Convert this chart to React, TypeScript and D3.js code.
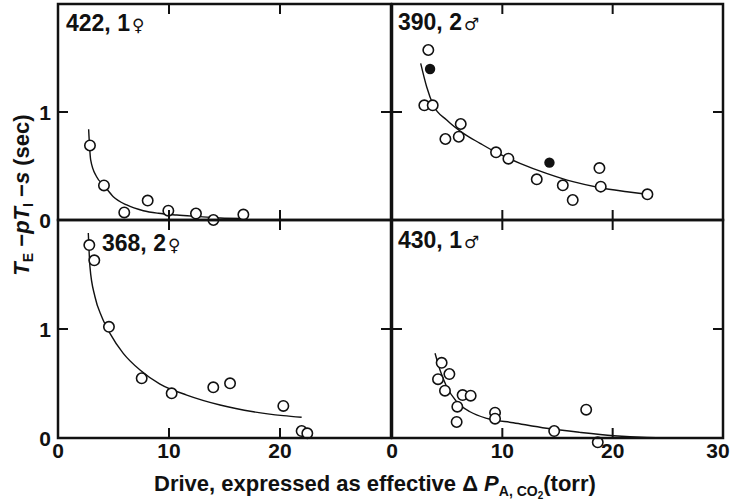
import * as d3 from 'd3';
import React from 'react';

// drive (torr) / time (sec)
const open422 = [[2.88, 0.69], [4.14, 0.32], [5.97, 0.07], [8.08, 0.18], [9.94, 0.086], [12.43, 0.06], [14.0, 0.0], [16.7, 0.05]];
const fit422 = [[2.76, 0.84], [2.94, 0.56], [3.48, 0.40], [4.14, 0.32], [4.98, 0.216], [6.19, 0.139], [7.69, 0.086], [9.04, 0.062], [10.7, 0.046], [12.8, 0.031], [14.6, 0.018], [16.7, 0.014]];

const open390 = [[3.29, 1.574], [2.93, 1.062], [3.69, 1.062], [6.23, 0.889], [4.84, 0.75], [6.05, 0.771], [9.43, 0.627], [10.55, 0.568], [13.12, 0.377], [15.48, 0.321], [16.38, 0.185], [18.8, 0.481], [18.92, 0.309], [23.15, 0.238]];
const filled390 = [[3.45, 1.398], [14.27, 0.531]];
const fit390 = [[2.6, 1.45], [3.14, 1.234], [3.75, 1.062], [4.96, 0.926], [6.47, 0.802], [7.98, 0.71], [9.49, 0.623], [11.6, 0.525], [14.0, 0.432], [16.4, 0.355], [18.86, 0.299], [21.3, 0.262], [23.1, 0.238]];

const open368 = [[2.82, 1.77], [3.27, 1.63], [4.59, 1.02], [7.54, 0.548], [10.24, 0.41], [13.99, 0.465], [15.5, 0.502], [20.3, 0.294], [21.95, 0.064], [22.46, 0.043]];
const fit368 = [[2.73, 1.88], [2.88, 1.57], [3.33, 1.296], [3.94, 1.113], [4.68, 0.96], [5.88, 0.777], [7.39, 0.624], [9.19, 0.495], [11.6, 0.394], [14.6, 0.303], [17.6, 0.241], [20.3, 0.205], [21.95, 0.19]];

const open430 = [[4.5, 0.69], [4.17, 0.54], [5.2, 0.587], [4.8, 0.434], [6.4, 0.394], [7.13, 0.388], [5.92, 0.287], [5.86, 0.147], [9.34, 0.232], [9.34, 0.177], [14.7, 0.064], [17.6, 0.26], [18.65, -0.04]];
const fit430 = [[3.9, 0.777], [4.35, 0.624], [4.96, 0.47], [5.86, 0.333], [7.07, 0.241], [8.59, 0.18], [11.0, 0.14], [14.0, 0.089], [17.0, 0.052], [20.1, 0.021], [23.1, 0.006], [27.6, 0.0]];

const xTicks = [10, 20];
const yTicks = [1];
const xLabelsLeft = [0, 10, 20];
const xLabelsRight = [0, 10, 20, 30];

const FONT = '"Liberation Sans", Arial, "DejaVu Sans", sans-serif';

type Pt = number[];

interface PanelProps {
    x0: number; x1: number; y0: number; y1: number;
    open: Pt[]; filled: Pt[]; fit: Pt[];
    name: string; sym: string; labelX: number; labelY: number;
}

function Panel(props: PanelProps) {
    const { x0, x1, y0, y1 } = props;
    const x = d3.scaleLinear().domain([0, 30]).range([x0, x1]);
    const y = d3.scaleLinear().domain([0, 2]).range([y1, y0]);
    const line = d3.line<Pt>().x(d => x(d[0])).y(d => y(d[1])).curve(d3.curveMonotoneX);
    const tl = 10;
    return (
        <g>
            <path d={line(props.fit) || ''} fill="none" stroke="#111" strokeWidth={1.4} />
            {props.open.map((d, i) => (
                <circle key={'o' + i} cx={x(d[0])} cy={y(d[1])} r={5.2} fill="white" stroke="#111" strokeWidth={1.6} />
            ))}
            {props.filled.map((d, i) => (
                <circle key={'f' + i} cx={x(d[0])} cy={y(d[1])} r={5.2} fill="#111" />
            ))}
            <rect x={x0} y={y0} width={x1 - x0} height={y1 - y0} fill="none" stroke="#111" strokeWidth={2.5} />
            {xTicks.map(t => (
                <g key={'xt' + t}>
                    <line x1={x(t)} x2={x(t)} y1={y0} y2={y0 + tl} stroke="#111" strokeWidth={2} />
                    <line x1={x(t)} x2={x(t)} y1={y1} y2={y1 - tl} stroke="#111" strokeWidth={2} />
                </g>
            ))}
            {yTicks.map(t => (
                <g key={'yt' + t}>
                    <line x1={x0} x2={x0 + tl} y1={y(t)} y2={y(t)} stroke="#111" strokeWidth={2} />
                    <line x1={x1} x2={x1 - tl} y1={y(t)} y2={y(t)} stroke="#111" strokeWidth={2} />
                </g>
            ))}
            <text x={props.labelX} y={props.labelY} fontFamily={FONT} fontSize={23} fontWeight="bold" fill="#111">
                {props.name}
                <tspan fontSize={17} fontFamily='"DejaVu Sans", sans-serif' dx={2}>{props.sym}</tspan>
            </text>
        </g>
    );
}

export default function App() {
    const left = [58, 391];
    const right = [392, 723];
    const top = [4, 220];
    const bottom = [220, 438];
    const xl = d3.scaleLinear().domain([0, 30]).range(left);
    const xr = d3.scaleLinear().domain([0, 30]).range(right);
    const yu = d3.scaleLinear().domain([0, 2]).range([top[1], top[0]]);
    const yb = d3.scaleLinear().domain([0, 2]).range([bottom[1], bottom[0]]);

    return (
        <svg width={731} height={502} style={{ position: 'absolute', left: 0, top: 0, background: 'white' }}>
            <Panel x0={left[0]} x1={left[1]} y0={top[0]} y1={top[1]} open={open422} filled={[]} fit={fit422}
                name="422, 1" sym="♀" labelX={66} labelY={31} />
            <Panel x0={right[0]} x1={right[1]} y0={top[0]} y1={top[1]} open={open390} filled={filled390} fit={fit390}
                name="390, 2" sym="♂" labelX={398} labelY={30} />
            <Panel x0={left[0]} x1={left[1]} y0={bottom[0]} y1={bottom[1]} open={open368} filled={[]} fit={fit368}
                name="368, 2" sym="♀" labelX={102} labelY={251} />
            <Panel x0={right[0]} x1={right[1]} y0={bottom[0]} y1={bottom[1]} open={open430} filled={[]} fit={fit430}
                name="430, 1" sym="♂" labelX={398} labelY={248} />

            {[yu, yb].map((s, k) => [0, 1].map(t => (
                <text key={'yl' + k + t} x={51} y={s(t)} dy="0.36em" textAnchor="end" fontFamily={FONT}
                    fontSize={21} fontWeight="bold" fill="#111">{t}</text>
            )))}

            {xLabelsLeft.map(t => (
                <text key={'xl' + t} x={xl(t)} y={458} textAnchor="middle" fontFamily={FONT} fontSize={21}
                    fontWeight="bold" fill="#111">{t}</text>
            ))}
            {xLabelsRight.map(t => (
                <text key={'xr' + t} x={Math.min(xr(t), 718)} y={458} textAnchor="middle" fontFamily={FONT} fontSize={21}
                    fontWeight="bold" fill="#111">{t}</text>
            ))}

            <text x={154} y={491} fontFamily={FONT} fontSize={22} fontWeight="bold" fill="#111">
                Drive, expressed as effective Δ <tspan fontStyle="italic">P</tspan>
                <tspan fontSize={14} dy={5}>A, CO</tspan>
                <tspan fontSize={10} dy={3}>2</tspan>
                <tspan dy={-8}>(torr)</tspan>
            </text>

            <text transform="translate(29,195) rotate(-90)" textAnchor="middle" fontFamily={FONT} fontSize={22}
                fontWeight="bold" fill="#111">
                <tspan fontStyle="italic">T</tspan>
                <tspan fontSize={14} dy={4}>E</tspan>
                <tspan dy={-4}> −</tspan>
                <tspan fontStyle="italic">pT</tspan>
                <tspan fontSize={14} dy={4}>I</tspan>
                <tspan dy={-4}> −</tspan>
                <tspan fontStyle="italic">s</tspan>
                <tspan> (sec)</tspan>
            </text>
        </svg>
    );
}
